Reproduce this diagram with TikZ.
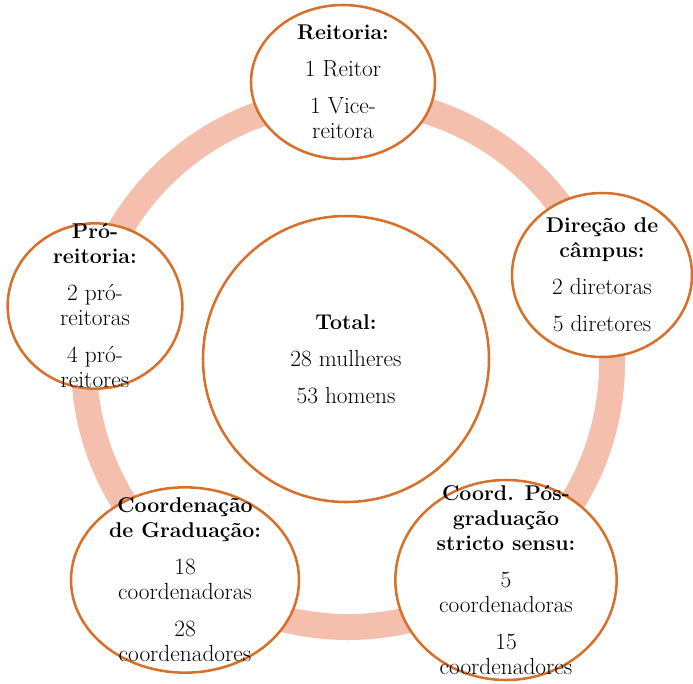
\documentclass[tikz,border=0pt]{standalone}
\usetikzlibrary{shapes.geometric}

\definecolor{anel}{RGB}{244,192,173}
\definecolor{borda}{RGB}{214,112,42}

\newcommand{\cabeca}[1]{{\fontsize{16}{18.75}\selectfont\bfseries #1}}

\begin{document}
\begin{tikzpicture}[
    x=0.75pt, y=-0.75pt,
    anelfundo/.style = {draw=anel, line width=19.5pt},
    orgao/.style = {
        ellipse, draw=borda, line width=1.9pt,
        fill=white, inner sep=0pt
    },
    rotulo/.style = {
        align=center, inner sep=0pt,
        font=\fontsize{17.5}{18.75}\selectfont
    }
]
\useasboundingbox (0,0) rectangle (693,683);

% Anel
\coordinate (meio) at (348,363);
\draw[anelfundo] (meio) circle [radius=264];

% Reitoria
\node[orgao, minimum width=138pt, minimum height=115.5pt] (reitoria) at (343,82) {};
\node[rotulo] (t-reitoria) at (reitoria)
    {\cabeca{Reitoria:}\\[9pt]
     1 Reitor\\[9pt]
     1 Vice-\\reitora};

% Direcao de campus
\node[orgao, minimum width=135pt, minimum height=123pt] (direcao) at (602,275) {};
\node[rotulo] (t-direcao) at (direcao)
    {\cabeca{Direção de}\\\cabeca{câmpus:}\\[9pt]
     2 diretoras\\[9pt]
     5 diretores};

% Pos-graduacao
\node[orgao, minimum width=166pt, minimum height=150pt] (posgrad) at (506,580) {};
\node[rotulo] (t-posgrad) at (posgrad)
    {\cabeca{Coord. Pós-}\\\cabeca{graduação}\\\cabeca{stricto sensu:}\\[9pt]
     5\\coordenadoras\\[9pt]
     15\\coordenadores};

% Graduacao
\node[orgao, minimum width=171pt, minimum height=139pt] (graduacao) at (185,580) {};
\node[rotulo] (t-graduacao) at (graduacao)
    {\cabeca{Coordenação}\\\cabeca{de Graduação:}\\[9pt]
     18\\coordenadoras\\[9pt]
     28\\coordenadores};

% Pro-reitoria
\node[orgao, minimum width=131pt, minimum height=124pt] (proreitoria) at (95,306) {};
\node[rotulo] (t-proreitoria) at (proreitoria)
    {\cabeca{Pró-}\\\cabeca{reitoria:}\\[9pt]
     2 pró-\\reitoras\\[9pt]
     4 pró-\\reitores};

% Total
\node[orgao, minimum width=214.5pt, minimum height=214.5pt] (total) at (346,359) {};
\node[rotulo] (t-total) at (total)
    {\cabeca{Total:}\\[9pt]
     28 mulheres\\[9pt]
     53 homens};

\end{tikzpicture}
\end{document}
